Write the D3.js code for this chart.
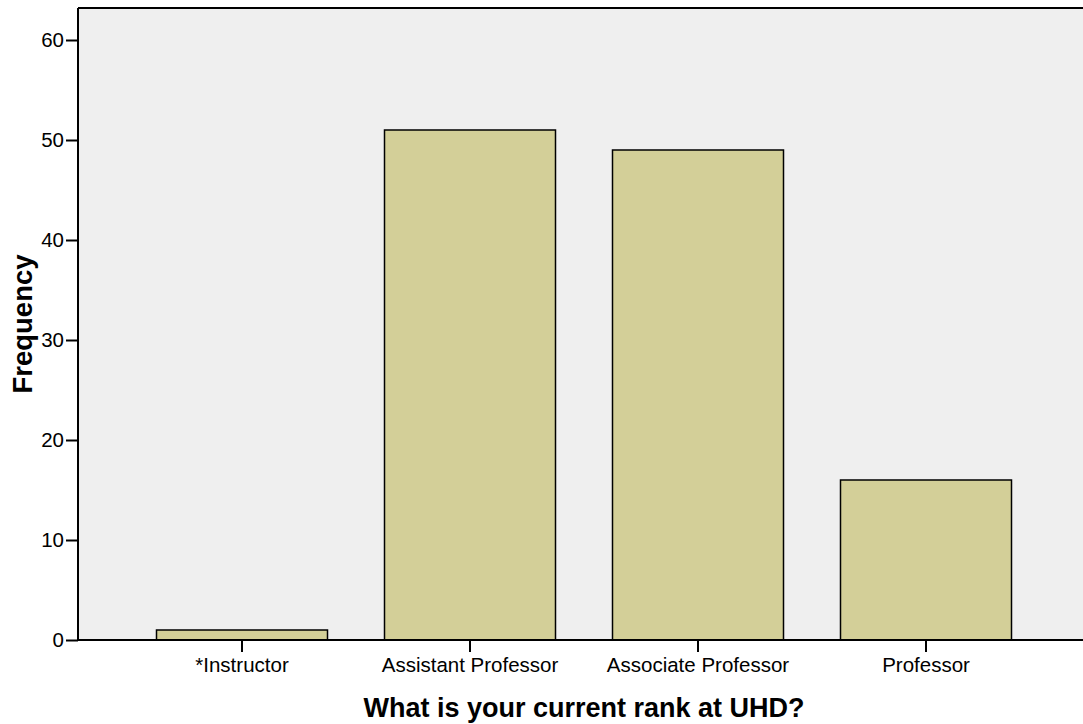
<!DOCTYPE html>
<html>
<head>
<meta charset="utf-8">
<script src="https://cdn.jsdelivr.net/npm/d3@7"></script>
<style>
  body { margin: 0; background: #fff; }
  text { font-family: "Liberation Sans", Arial, sans-serif; fill: #000; }
</style>
</head>
<body>
<svg width="1083" height="724"></svg>
<script>
// frequency of current rank
var categories = ['*Instructor', 'Assistant Professor', 'Associate Professor', 'Professor'];
var frequencies = [1, 51, 49, 16];
var yTicks = [0, 10, 20, 30, 40, 50, 60];

var svg = d3.select('svg');

var plot = {l: 78, t: 8, r: 1083, b: 640};

var x = d3.scaleBand()
    .domain(categories)
    .range([128, 1040])
    .paddingInner(0.25)
    .paddingOuter(0.125);

var y = d3.scaleLinear()
    .domain([0, 60])
    .range([plot.b, 40]);

// plot background
svg.append('rect')
    .attr('x', plot.l)
    .attr('y', plot.t)
    .attr('width', plot.r - plot.l)
    .attr('height', plot.b - plot.t)
    .attr('fill', '#efefef');

// bars
svg.selectAll('.bar')
    .data(frequencies)
    .enter()
    .append('rect')
    .attr('class', 'bar')
    .attr('x', function(d, i) { return x(categories[i]); })
    .attr('y', function(d) { return y(d); })
    .attr('width', x.bandwidth())
    .attr('height', function(d) { return y(0) - y(d); })
    .attr('fill', '#d3cf98')
    .attr('stroke', '#000')
    .attr('stroke-width', 1.5);

// frame lines: top and left
svg.append('line')
    .attr('x1', plot.l).attr('x2', plot.r)
    .attr('y1', plot.t).attr('y2', plot.t)
    .attr('stroke', '#000').attr('stroke-width', 2);

var yAxis = svg.append('g')
    .attr('transform', 'translate(' + plot.l + ',0)')
    .call(d3.axisLeft(y).tickValues(yTicks).tickSize(12).tickPadding(2).tickFormat(d3.format('d')));

var xAxis = svg.append('g')
    .attr('transform', 'translate(0,' + plot.b + ')')
    .call(d3.axisBottom(x).tickSize(12).tickPadding(5));

[yAxis, xAxis].forEach(function(ax) {
    ax.selectAll('path, line').attr('stroke', '#000').attr('stroke-width', 2);
    ax.selectAll('text')
        .style('font-family', '"Liberation Sans", Arial, sans-serif')
        .style('font-size', '20.5px')
        .attr('fill', '#000');
});
yAxis.select('.domain').attr('d', 'M0,' + plot.t + 'V' + plot.b);
xAxis.select('.domain').attr('d', 'M' + plot.l + ',0H' + plot.r);

// axis titles
svg.append('text')
    .attr('transform', 'translate(32,' + ((plot.t + plot.b) / 2) + ') rotate(-90)')
    .attr('text-anchor', 'middle')
    .style('font-size', '27.5px')
    .style('font-weight', 'bold')
    .text('Frequency');

svg.append('text')
    .attr('x', 584)
    .attr('y', 717)
    .attr('text-anchor', 'middle')
    .style('font-size', '27px')
    .style('font-weight', 'bold')
    .text('What is your current rank at UHD?');
</script>
</body>
</html>
